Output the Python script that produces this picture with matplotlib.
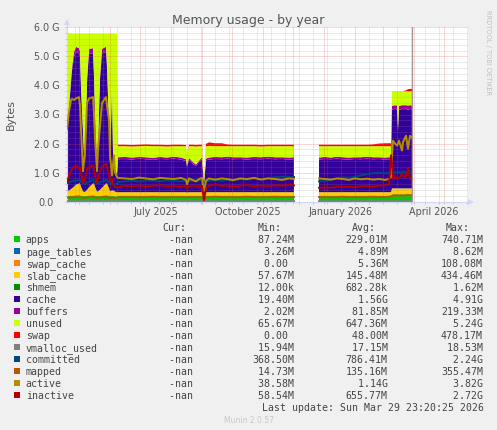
import numpy as np
import matplotlib
matplotlib.use('Agg')
import matplotlib.pyplot as plt
import matplotlib.dates as mdates
import matplotlib.transforms as mtransforms
from matplotlib.patches import Rectangle
from matplotlib.ticker import MultipleLocator, FixedLocator

NaN = float('nan')
W, H = 497, 431

# ---------------- data (values in G) ----------------
START = np.datetime64('2025-04-19')
day_offsets = ([0, 2, 4, 5, 7, 9, 12, 13, 14, 16, 17, 18, 20, 22, 26, 27, 28, 30, 31, 33, 35, 39, 40, 42, 43, 45, 46, 47, 48, 50]
               + [51, 58, 65, 72, 79, 86, 93, 100, 107, 114, 119, 120, 122, 126, 129, 132, 135, 137, 139, 142,
                  148, 155, 160, 166, 173, 180, 187, 194, 201, 208, 215, 222, 227]
               + [240]
               + [252, 258, 264, 270, 276, 282, 288, 294, 300, 306, 312, 318, 322, 324]
               + [325, 326, 328, 330, 331, 332, 335, 336, 339, 341, 343, 345])

apps = ([.20, .20, .21, .21, .21, .22, .22, .22, .21, .20, .20, .20, .20, .21, .22, .22, .21, .20, .20, .20,
         .21, .22, .22, .21, .20, .20, .20, .20, .18, .18]
        + [.21, .21, .21, .21, .21, .21, .21, .21, .21, .21, .21, .20, .21, .21, .21, .21, .21, .12, .21, .21,
           .21, .21, .21, .21, .21, .21, .21, .21, .21, .21, .21, .21, .21]
        + [NaN]
        + [.21, .21, .21, .21, .21, .21, .21, .21, .21, .21, .21, .21, .21, .21]
        + [.25, .25, .25, .25, .25, .25, .25, .25, .25, .25, .25, .25])
page_tables = ([.004, .004, .004, .004, .004, .004, .004, .004, .004, .004, .004, .004, .004, .004, .004, .004, .004, .004, .004, .004,
                .004, .004, .004, .004, .004, .004, .004, .004, .004, .004]
               + [.004, .004, .004, .004, .004, .004, .004, .004, .004, .004, .004, .004, .004, .004, .004, .004, .004, .003, .004, .004,
                  .004, .004, .004, .004, .004, .004, .004, .004, .004, .004, .004, .004, .004]
               + [NaN]
               + [.004, .004, .004, .004, .004, .004, .004, .004, .004, .004, .004, .004, .004, .004]
               + [.004, .004, .004, .004, .004, .004, .004, .004, .004, .004, .004, .004])
swap_cache = ([.003, .003, .003, .003, .003, .003, .003, .003, .003, .003, .003, .003, .003, .003, .003, .003, .003, .003, .003, .003,
               .003, .003, .003, .003, .003, .003, .003, .003, .003, .003]
              + [.003, .003, .003, .003, .003, .003, .003, .003, .003, .003, .003, .003, .003, .003, .003, .003, .003, .003, .003, .003,
                 .003, .003, .003, .003, .003, .003, .003, .003, .003, .003, .003, .003, .003]
              + [NaN]
              + [.003, .003, .003, .003, .003, .003, .003, .003, .003, .003, .003, .003, .003, .003]
              + [.003, .003, .003, .003, .003, .003, .003, .003, .003, .003, .003, .003])
slab_cache = ([.15, .18, .22, .24, .30, .36, .40, .40, .30, .15, .13, .13, .20, .28, .40, .40, .30, .14, .15, .20,
               .26, .40, .40, .25, .15, .18, .18, .17, .16, .14]
              + [.11, .11, .11, .11, .11, .11, .11, .11, .11, .11, .11, .11, .11, .11, .11, .11, .11, .08, .11, .11,
                 .11, .11, .11, .11, .11, .11, .11, .11, .11, .11, .11, .11, .11]
              + [NaN]
              + [.11, .11, .11, .11, .11, .11, .11, .11, .11, .11, .11, .11, .11, .11]
              + [.20, .20, .20, .20, .20, .20, .20, .20, .20, .20, .20, .20])
shmem = ([.001, .001, .001, .001, .001, .001, .001, .001, .001, .001, .001, .001, .001, .001, .001, .001, .001, .001, .001, .001,
          .001, .001, .001, .001, .001, .001, .001, .001, .001, .001]
         + [.001, .001, .001, .001, .001, .001, .001, .001, .001, .001, .001, .001, .001, .001, .001, .001, .001, .001, .001, .001,
            .001, .001, .001, .001, .001, .001, .001, .001, .001, .001, .001, .001, .001]
         + [NaN]
         + [.001, .001, .001, .001, .001, .001, .001, .001, .001, .001, .001, .001, .001, .001]
         + [.001, .001, .001, .001, .001, .001, .001, .001, .001, .001, .001, .001])
cache = ([1.842, 2.812, 3.662, 4.042, 4.482, 4.562, 4.472, 4.372, 3.382, 2.042, 1.262, 0.962, 3.692, 4.602, 4.472,
          3.672, 2.482, 0.952, 1.542, 3.792, 4.622, 4.522, 3.972, 2.132, 0.942, 3.512, 1.312, 0.922, 0.752, 0.572]
         + [1.132, 1.142, 1.122, 1.152, 1.132, 1.112, 1.142, 1.132, 1.152, 1.122, 1.072, 0.882, 1.112, 0.972, 0.892, 1.022,
            1.132, 0.392, 1.092, 1.122, 1.142, 1.132, 1.152, 1.132, 1.142, 1.122, 1.142, 1.132, 1.152, 1.132, 1.142, 1.122, 1.132]
         + [NaN]
         + [1.122, 1.142, 1.132, 1.152, 1.132, 1.122, 1.142, 1.132, 1.152, 1.132, 1.142, 1.122, 1.132, 1.132]
         + [2.692, 2.722, 2.742, 2.712, 1.992, 2.692, 2.742, 2.722, 2.742, 2.702, 2.742, 2.712])
buffers = ([.08, .10, .13, .14, .16, .18, .18, .18, .14, .08, .06, .05, .12, .16, .18, .16, .10, .05, .07, .12,
            .16, .18, .16, .09, .05, .12, .06, .05, .05, .05]
           + [.07, .07, .07, .06, .07, .07, .07, .06, .07, .07, .06, .05, .07, .06, .06, .06, .07, .03, .06, .07,
              .07, .07, .07, .07, .06, .07, .07, .07, .07, .07, .06, .07, .07]
           + [NaN]
           + [.07, .07, .06, .07, .07, .07, .06, .07, .07, .07, .06, .07, .07, .07]
           + [.15, .13, .12, .14, .10, .14, .12, .14, .12, .15, .12, .14])
unused = ([3.50, 2.48, 1.55, 1.14, 0.62, 0.45, 0.50, 0.60, 1.74, 3.30, 4.12, 4.43, 1.56, 0.52, 0.50, 1.32, 2.68, 4.43,
           3.81, 1.46, 0.52, 0.45, 1.02, 3.09, 4.43, 1.76, 4.02, 4.43, 4.63, 4.83]
          + [.38, .37, .38, .37, .39, .40, .37, .38, .36, .39, .45, .40, .40, .55, .62, .50, .38, .17, .43, .40,
             .37, .38, .36, .38, .38, .39, .37, .37, .36, .38, .38, .39, .38]
          + [NaN]
          + [.39, .37, .39, .36, .38, .39, .38, .38, .36, .38, .38, .39, .38, .38]
          + [.50, .49, .48, .49, 1.25, .51, .48, .48, .48, .49, .48, .49])
swap = ([0, 0, 0, 0, 0, 0, 0, 0, 0, 0, 0, 0, 0, 0, 0, 0, 0, 0, 0, 0, 0, 0, 0, 0, 0, 0, 0, 0, 0, 0]
        + [.05, .05, .05, .05, .05, .05, .05, .05, .05, .05, .04, 0, .05, .05, .05, .05, .05, 0, .08, .12,
           .10, .10, .06, .05, .05, .05, .05, .05, .05, .05, .05, .05, .05]
        + [NaN]
        + [.05, .05, .05, .05, .05, .05, .05, .05, .05, .06, .09, .10, .10, .10]
        + [0, 0, 0, 0, 0, 0, 0, 0, .03, .07, .08, .08])

vmalloc_used = ([.016, .016, .016, .016, .016, .016, .016, .016, .016, .016, .016, .016, .016, .016, .016, .016, .016, .016, .016, .016,
                 .016, .016, .016, .016, .016, .016, .016, .016, .016, .016]
                + [.017, .017, .017, .017, .017, .017, .017, .017, .017, .017, .017, .017, .017, .017, .017, .017, .017, .016, .017, .017,
                   .017, .017, .017, .017, .017, .017, .017, .017, .017, .017, .017, .017, .017]
                + [NaN]
                + [.017, .017, .017, .017, .017, .017, .017, .017, .017, .017, .017, .017, .017, .017]
                + [.018, .018, .018, .018, .018, .018, .018, .018, .018, .018, .018, .018])
committed = ([.65, .67, .69, .70, .72, .73, .74, .74, .70, .63, .61, .61, .66, .70, .74, .72, .68, .62, .62, .66,
              .70, .74, .73, .68, .62, .64, .61, .60, .60, .62]
             + [0.68, 0.70, 0.72, 0.70, 0.73, 0.72, 0.70, 0.74, 0.72, 0.70, 0.72, 0.68, 0.70, 0.72, 0.70, 0.72, 0.74, 0.55,
                0.70, 0.72, 0.74, 0.72, 0.76, 0.74, 0.78, 0.76, 0.80, 0.78, 0.82, 0.84, 0.86, 0.84, 0.85]
             + [NaN]
             + [0.70, 0.72, 0.75, 0.80, 0.84, 0.82, 0.86, 0.90, 0.95, 0.98, 1.00, 0.97, 1.00, 0.98]
             + [1.00, 1.05, 1.02, 1.00, 1.05, 1.02, 1.00, 1.04, 1.02, 1.00, 1.05, 1.02])
mapped = ([.14, .15, .15, .15, .16, .16, .17, .16, .15, .13, .13, .13, .15, .16, .17, .16, .15, .13, .13, .15,
           .16, .17, .16, .15, .13, .14, .13, .13, .13, .14]
          + [0.15, 0.16, 0.16, 0.15, 0.16, 0.17, 0.16, 0.15, 0.16, 0.16, 0.15, 0.14, 0.16, 0.16, 0.15, 0.16, 0.16, 0.08,
             0.14, 0.16, 0.17, 0.16, 0.16, 0.15, 0.16, 0.17, 0.16, 0.15, 0.16, 0.17, 0.16, 0.16, 0.16]
          + [NaN]
          + [0.16, 0.16, 0.15, 0.16, 0.17, 0.16, 0.16, 0.15, 0.16, 0.17, 0.16, 0.16, 0.17, 0.18]
          + [0.20, 0.21, 0.22, 0.21, 0.22, 0.21, 0.22, 0.21, 0.22, 0.23, 0.22, 0.22])
active = ([2.5, 3.1, 3.5, 3.53, 3.5, 3.55, 3.6, 3.3, 2.5, 1.05, 1.4, 1.7, 3.4, 3.55, 3.6, 3.0, 2.2, 1.05, 1.8, 2.6,
           3.4, 3.6, 3.3, 2.8, 1.6, 0.9, 1.3, 1.6, 1.0, 0.85]
          + [0.82, 0.80, 0.78, 0.83, 0.80, 0.77, 0.82, 0.80, 0.78, 0.82, 0.75, 0.60, 0.80, 0.74, 0.70, 0.78, 0.82, 0.35,
             0.72, 0.80, 0.76, 0.80, 0.78, 0.74, 0.80, 0.78, 0.82, 0.76, 0.80, 0.78, 0.75, 0.80, 0.78]
          + [NaN]
          + [0.80, 0.78, 0.76, 0.80, 0.78, 0.75, 0.80, 0.77, 0.79, 0.76, 0.78, 0.75, 0.78, 0.85]
          + [1.60, 2.10, 2.00, 1.93, 2.00, 2.10, 1.76, 2.05, 2.27, 1.82, 2.27, 2.20])
inactive = ([.65, .90, 1.05, 1.13, 1.20, 1.25, 1.15, 1.15, .95, .67, .70, .80, 1.13, 1.20, 1.25, 1.10, .90, .67, .80, 1.05,
             1.20, 1.30, 1.20, .95, .70, .80, .60, .55, .50, .50]
            + [0.50, 0.55, 0.53, 0.56, 0.52, 0.55, 0.57, 0.53, 0.55, 0.52, 0.55, 0.45, 0.54, 0.56, 0.52, 0.55, 0.54, 0.05,
               0.45, 0.55, 0.58, 0.54, 0.56, 0.52, 0.55, 0.57, 0.53, 0.56, 0.54, 0.57, 0.55, 0.58, 0.56]
            + [NaN]
            + [0.48, 0.50, 0.48, 0.52, 0.50, 0.52, 0.50, 0.53, 0.55, 0.52, 0.55, 0.57, 0.58, 1.60]
            + [1.30, 0.80, 0.90, 0.80, 0.82, 0.80, 0.96, 0.90, 0.85, 1.13, 0.79, 0.75])

series_names = ['apps', 'page_tables', 'swap_cache', 'slab_cache', 'shmem', 'cache', 'buffers', 'unused', 'swap',
                'vmalloc_used', 'committed', 'mapped', 'active', 'inactive']
series_colors = ['#00CC00', '#0066B3', '#FF8000', '#FFCC00', '#008F00', '#330099', '#990099', '#CCFF00', '#FF0000',
                 '#808080', '#00487D', '#B35A00', '#B38F00', '#B30000']
cur_vals = ['-nan'] * 14
min_vals = ['87.24M', '3.26M', '0.00', '57.67M', '12.00k', '19.40M', '2.02M', '65.67M', '0.00', '15.94M',
            '368.50M', '14.73M', '38.58M', '58.54M']
avg_vals = ['229.01M', '4.89M', '5.36M', '145.48M', '682.28k', '1.56G', '81.85M', '647.36M', '48.00M', '17.15M',
            '786.41M', '135.16M', '1.14G', '655.77M']
max_vals = ['740.71M', '8.62M', '108.08M', '434.46M', '1.62M', '4.91G', '219.33M', '5.24G', '478.17M', '18.53M',
            '2.24G', '355.47M', '3.82G', '2.72G']

ytick_values = [0, 1, 2, 3, 4, 5, 6]
ytick_labels = ['0.0', '1.0 G', '2.0 G', '3.0 G', '4.0 G', '5.0 G', '6.0 G']
xlabel_dates = ['2025-07-17', '2025-10-17', '2026-01-17', '2026-04-21']
xlabel_texts = ['July 2025', 'October 2025', 'January 2026', 'April 2026']
last_update = 'Last update: Sun Mar 29 23:20:25 2026'
now_time = np.datetime64('2026-03-29T23:20')

stack_series = [apps, page_tables, swap_cache, slab_cache, shmem, cache, buffers, unused, swap]
line_series = [vmalloc_used, committed, mapped, active, inactive]
for s in stack_series + line_series:
    assert len(s) == len(day_offsets), len(s)

# ---------------- figure ----------------
def fx(px):
    return px / W


def fy(py):
    return 1 - py / H


fig = plt.figure(figsize=(W / 100, H / 100), dpi=100, facecolor='#F0F0F0')
ax = fig.add_axes([fx(67), fy(202.7), 400.5 / W, 174.4 / H])
ax.set_facecolor('white')

dates = START + np.array(day_offsets).astype('timedelta64[D]')
xnum = mdates.date2num(dates)

ax.stackplot(xnum, *[np.array(s, dtype=float) for s in stack_series],
             colors=series_colors[:9], linewidth=0, zorder=1)
for vals, col in zip(line_series, series_colors[9:]):
    ax.plot(xnum, vals, color=col, lw=1.4, zorder=3, solid_joinstyle='round')

ax.axvline(mdates.date2num(now_time), color='#999999', lw=0.9, zorder=4)

x0 = mdates.date2num(START)
ax.set_xlim(x0, x0 + 400.5)
ax.set_ylim(0, 6)

ax.xaxis.set_major_locator(mdates.MonthLocator())
minor_dates = np.arange(np.datetime64('2025-03-30'), np.datetime64('2026-07-01'), np.timedelta64(14, 'D'))
ax.xaxis.set_minor_locator(FixedLocator(mdates.date2num(minor_dates)))
ax.yaxis.set_major_locator(MultipleLocator(1))
ax.yaxis.set_minor_locator(MultipleLocator(0.2))
ax.set_axisbelow(False)
ax.grid(which='major', color='#E85050', alpha=0.45, lw=0.72, ls=(0, (1, 1)))
ax.grid(which='minor', color='#909090', alpha=0.35, lw=0.72, ls=(0, (1, 1)))
ax.tick_params(which='both', labelbottom=False, labelleft=False, direction='out',
               length=1.6, width=0.72, color='#C8C8C8')

for sp in ['top', 'right']:
    ax.spines[sp].set_visible(False)
for sp in ['left', 'bottom']:
    ax.spines[sp].set_color('#CFD6F8')
    ax.spines[sp].set_linewidth(0.8)

# axis arrows
ax.plot([0, 0], [1, 1.027], transform=ax.transAxes, color='#CFD6F8', lw=0.8, clip_on=False)
ax.plot([0], [1.032], marker='^', ms=4.5, mew=0, color='#CFD6F8', transform=ax.transAxes, clip_on=False)
ax.plot([1, 1.007], [0, 0], transform=ax.transAxes, color='#CFD6F8', lw=0.8, clip_on=False)
ax.plot([1.009], [0], marker='>', ms=4.5, mew=0, color='#CFD6F8', transform=ax.transAxes, clip_on=False)

tick_font = dict(family='DejaVu Sans', size=6.9, color='#555555')
ytrans = mtransforms.blended_transform_factory(fig.transFigure, ax.transData)
for v, lab in zip(ytick_values, ytick_labels):
    xr = 53.5 if v == 0 else 59.5
    ax.text(fx(xr), v, lab, transform=ytrans, ha='right', va='center', clip_on=False, **tick_font)
xtrans = mtransforms.blended_transform_factory(ax.transData, fig.transFigure)
for d, lab in zip(xlabel_dates, xlabel_texts):
    ax.text(mdates.date2num(np.datetime64(d)), fy(215), lab, transform=xtrans,
            ha='center', va='baseline', clip_on=False, **tick_font)

fig.text(fx(248.5), fy(24.3), 'Memory usage - by year', ha='center', va='baseline',
         family='DejaVu Sans', size=9, color='#555555')
fig.text(fx(10.7), fy(115), 'Bytes', rotation=90, ha='center', va='center',
         family='DejaVu Sans', size=7.9, color='#555555')
fig.text(fx(488), fy(52.5), 'RRDTOOL / TOBI OETIKER', rotation=270, ha='center', va='center',
         family='DejaVu Sans', size=4.8, color='#C0C0C0')
fig.text(fx(248.7), fy(422.7), 'Munin 2.0.57', ha='center', va='baseline',
         family='DejaVu Sans', size=5.5, color='#C8C8C8')

mono = dict(family='DejaVu Sans Mono', size=7.14, color='#444444')


def field(v):
    s = v if v[-1] in 'kMGT' else v + ' '
    return s.rjust(7)


for xp, s in zip([162.6, 257.6, 351.6, 446.0], ['Cur:', 'Min:', 'Avg:', 'Max:']):
    fig.text(fx(xp), fy(231.2), s, ha='left', va='baseline', **mono)

for k, name in enumerate(series_names):
    b = 243.3 + 12 * k
    fig.patches.append(Rectangle((fx(14), fy(b - 0.3)), 6 / W, 6 / H, transform=fig.transFigure,
                                 facecolor=series_colors[k], edgecolor='none'))
    fig.text(fx(25.7), fy(b), name, ha='left', va='baseline', **mono)
    for xp, v in zip([156.8, 252.2, 345.7, 441.0], [cur_vals[k], min_vals[k], avg_vals[k], max_vals[k]]):
        fig.text(fx(xp), fy(b), field(v), ha='left', va='baseline', **mono)

fig.text(fx(261.5), fy(243.3 + 12 * 14), last_update, ha='left', va='baseline', **mono)

fig.savefig('out.png', dpi=100, facecolor='#F0F0F0')
